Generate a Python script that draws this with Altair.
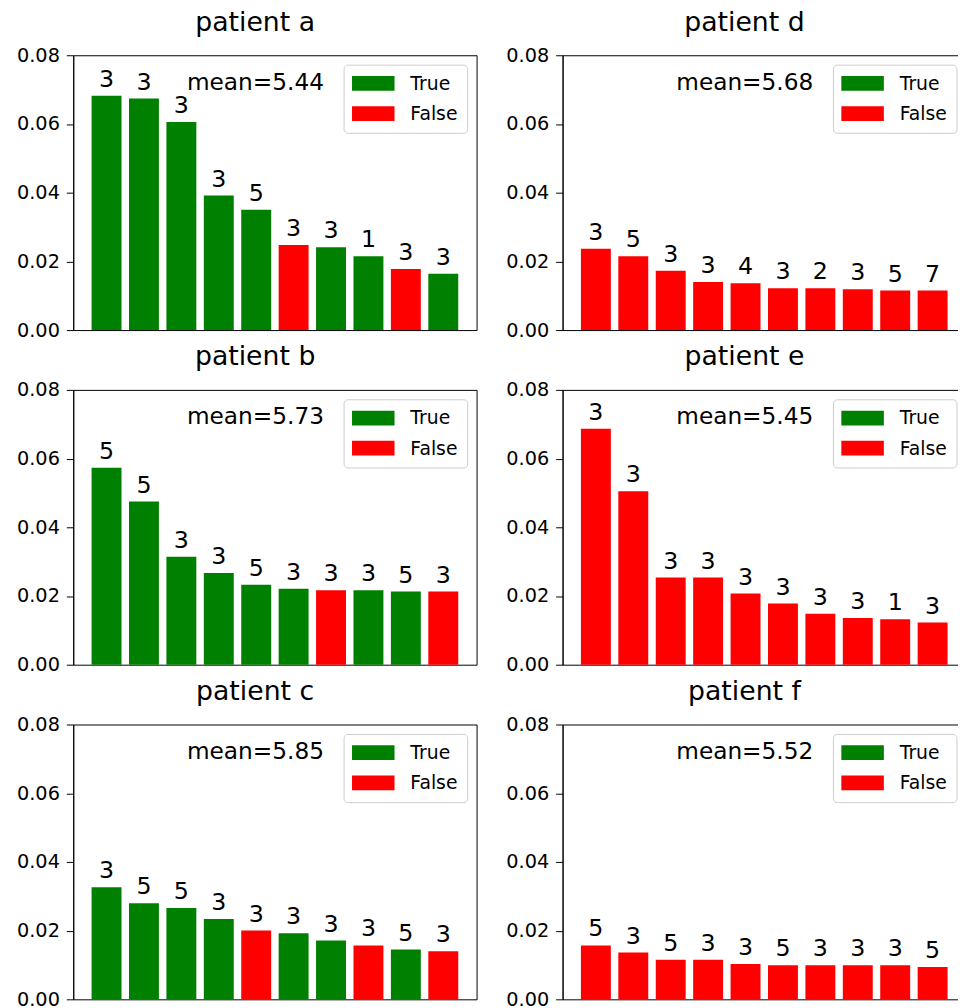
import altair as alt
import pandas as pd

FONT = "DejaVu Sans"
GREEN = "#008000"
RED = "#ff0000"

ranks = list(range(1, 11))

# patient a
a_values = [0.0682, 0.0674, 0.0606, 0.0392, 0.0350, 0.0248, 0.0241, 0.0215, 0.0178, 0.0164]
a_flags = [True, True, True, True, True, False, True, True, False, True]
a_labels = [3, 3, 3, 3, 5, 3, 3, 1, 3, 3]
a_mean = 5.44

# patient b
b_values = [0.0573, 0.0475, 0.0314, 0.0267, 0.0233, 0.0221, 0.0217, 0.0217, 0.0213, 0.0213]
b_flags = [True, True, True, True, True, True, False, True, True, False]
b_labels = [5, 5, 3, 3, 5, 3, 3, 3, 5, 3]
b_mean = 5.73

# patient c
c_values = [0.0326, 0.0280, 0.0266, 0.0234, 0.0200, 0.0192, 0.0171, 0.0157, 0.0145, 0.0140]
c_flags = [True, True, True, True, False, True, True, False, True, False]
c_labels = [3, 5, 5, 3, 3, 3, 3, 3, 5, 3]
c_mean = 5.85

# patient d
d_values = [0.0237, 0.0215, 0.0173, 0.0140, 0.0136, 0.0122, 0.0122, 0.0119, 0.0115, 0.0115]
d_flags = [False] * 10
d_labels = [3, 5, 3, 3, 4, 3, 2, 3, 5, 7]
d_mean = 5.68

# patient e
e_values = [0.0687, 0.0505, 0.0254, 0.0254, 0.0207, 0.0178, 0.0148, 0.0136, 0.0132, 0.0123]
e_flags = [False] * 10
e_labels = [3, 3, 3, 3, 3, 3, 3, 3, 1, 3]
e_mean = 5.45

# patient f
f_values = [0.0157, 0.0136, 0.0115, 0.0115, 0.0103, 0.0099, 0.0099, 0.0099, 0.0099, 0.0094]
f_flags = [False] * 10
f_labels = [5, 3, 5, 3, 3, 5, 3, 3, 3, 5]
f_mean = 5.52

legend_labels = ["True", "False"]
legend_colors = [GREEN, RED]
y_ticks = [0.0, 0.02, 0.04, 0.06, 0.08]

H = 278
W = 408


def panel(name, vals, flags, labels, mean):
    df = pd.DataFrame({
        "rank": ranks,
        "value": vals,
        "flag": ["True" if f else "False" for f in flags],
        "label": [str(v) for v in labels],
    })
    x = alt.X("rank:O", title=None,
              scale=alt.Scale(paddingInner=0.2, paddingOuter=0.49),
              axis=None)
    y = alt.Y("value:Q", title=None,
              scale=alt.Scale(domain=[0, 0.08], nice=False),
              axis=alt.Axis(values=y_ticks, format=".2f", grid=False,
                            domainColor="black", tickColor="black",
                            tickSize=7, labelPadding=7, labelFontSize=19.5,
                            labelFont=FONT, labelColor="black"))
    bars = alt.Chart(df).mark_bar().encode(
        x=x, y=y,
        color=alt.Color("flag:N", legend=None,
                        scale=alt.Scale(domain=legend_labels, range=legend_colors)),
    )
    text = alt.Chart(df).mark_text(
        baseline="alphabetic", dy=-9, fontSize=24, font=FONT, color="black"
    ).encode(x="rank:O", y="value:Q", text="label:N")

    one = pd.DataFrame({"t": [f"mean={mean:.2f}"]})
    mean_txt = alt.Chart(one).mark_text(
        align="left", baseline="alphabetic", fontSize=23.5, font=FONT, color="black"
    ).encode(x=alt.value(115), y=alt.value(35), text="t:N")

    box = alt.Chart(one).mark_rect(
        cornerRadius=4, fill="white", fillOpacity=0.8, stroke="#cccccc", strokeWidth=1
    ).encode(x=alt.value(274), x2=alt.value(399), y=alt.value(10), y2=alt.value(79))

    layers = [bars, text, mean_txt, box]
    for i, (lab, col) in enumerate(zip(legend_labels, legend_colors)):
        ldf = pd.DataFrame({"t": [lab]})
        y0 = 21 + 30.5 * i
        sw = alt.Chart(ldf).mark_rect(color=col).encode(
            x=alt.value(282), x2=alt.value(325), y=alt.value(y0), y2=alt.value(y0 + 15))
        lt = alt.Chart(ldf).mark_text(
            align="left", baseline="alphabetic", fontSize=19, font=FONT, color="black"
        ).encode(x=alt.value(341), y=alt.value(y0 + 14), text="t:N")
        layers += [sw, lt]

    return alt.layer(*layers).properties(
        width=W, height=H,
        title=alt.TitleParams(f"patient {name}", fontSize=27, font=FONT,
                              fontWeight="normal", color="black",
                              anchor="middle", baseline="bottom", offset=-18,
                              dx=-20),
    )


left_specs = [("a", a_values, a_flags, a_labels, a_mean),
              ("b", b_values, b_flags, b_labels, b_mean),
              ("c", c_values, c_flags, c_labels, c_mean)]
right_specs = [("d", d_values, d_flags, d_labels, d_mean),
               ("e", e_values, e_flags, e_labels, e_mean),
               ("f", f_values, f_flags, f_labels, f_mean)]

rows = []
for ls, rs in zip(left_specs, right_specs):
    rows.append(alt.hconcat(panel(*ls), panel(*rs), spacing=28))

chart = alt.vconcat(*rows, spacing=2.5).properties(
    padding={"left": 8, "top": -6, "right": -9, "bottom": -4},
    background="white",
).configure_view(stroke="black", strokeWidth=1)

chart.save("out.html", embed_options={"renderer": "svg", "actions": False})
